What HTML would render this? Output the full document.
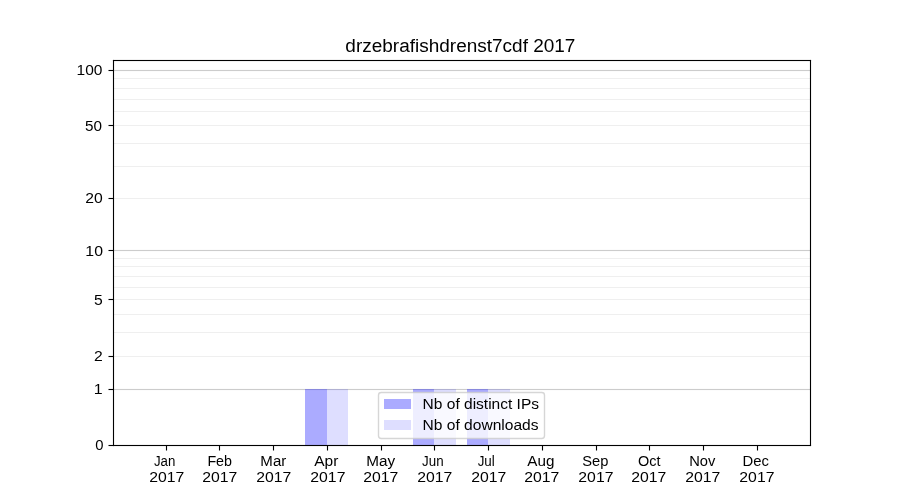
<!DOCTYPE html>
<html><head><meta charset="utf-8"><title>drzebrafishdrenst7cdf 2017</title>
<style>html,body{margin:0;padding:0;background:#fff;}body{width:900px;height:500px;overflow:hidden;}svg{display:block;will-change:transform;}text{font-family:"Liberation Sans",sans-serif;fill:#000;}</style>
</head><body>
<svg width="900" height="500" viewBox="0 0 900 500">
<rect x="0" y="0" width="900" height="500" fill="#ffffff"/>
<g>
<rect x="113" y="388.945" width="697.5" height="1.111" fill="#cccccc"/>
<rect x="113" y="355.945" width="697.5" height="1.111" fill="#efefef"/>
<rect x="113" y="331.945" width="697.5" height="1.111" fill="#efefef"/>
<rect x="113" y="313.945" width="697.5" height="1.111" fill="#efefef"/>
<rect x="113" y="298.945" width="697.5" height="1.111" fill="#efefef"/>
<rect x="113" y="286.945" width="697.5" height="1.111" fill="#efefef"/>
<rect x="113" y="275.945" width="697.5" height="1.111" fill="#efefef"/>
<rect x="113" y="265.945" width="697.5" height="1.111" fill="#efefef"/>
<rect x="113" y="257.945" width="697.5" height="1.111" fill="#efefef"/>
<rect x="113" y="249.945" width="697.5" height="1.111" fill="#cccccc"/>
<rect x="113" y="197.945" width="697.5" height="1.111" fill="#efefef"/>
<rect x="113" y="165.945" width="697.5" height="1.111" fill="#efefef"/>
<rect x="113" y="142.945" width="697.5" height="1.111" fill="#efefef"/>
<rect x="113" y="124.945" width="697.5" height="1.111" fill="#efefef"/>
<rect x="113" y="110.945" width="697.5" height="1.111" fill="#efefef"/>
<rect x="113" y="98.945" width="697.5" height="1.111" fill="#efefef"/>
<rect x="113" y="87.945" width="697.5" height="1.111" fill="#efefef"/>
<rect x="113" y="77.945" width="697.5" height="1.111" fill="#efefef"/>
<rect x="113" y="69.945" width="697.5" height="1.111" fill="#cccccc"/>
</g>
<g shape-rendering="crispEdges">
<rect x="305" y="389" width="22" height="56" fill="#0000ff" fill-opacity="0.33"/>
<rect x="327" y="389" width="21" height="56" fill="#0000ff" fill-opacity="0.13"/>
<rect x="413" y="389" width="21" height="56" fill="#0000ff" fill-opacity="0.33"/>
<rect x="434" y="389" width="22" height="56" fill="#0000ff" fill-opacity="0.13"/>
<rect x="467" y="389" width="21" height="56" fill="#0000ff" fill-opacity="0.33"/>
<rect x="488" y="389" width="22" height="56" fill="#0000ff" fill-opacity="0.13"/>
</g>
<g fill="#000000">
<rect x="112.945" y="59.944" width="698.111" height="1.111"/>
<rect x="112.945" y="444.945" width="698.111" height="1.111"/>
<rect x="112.945" y="59.944" width="1.111" height="386.111"/>
<rect x="809.944" y="59.944" width="1.111" height="386.111"/>
<rect x="108.5" y="444.945" width="5" height="1.111"/>
<rect x="108.5" y="388.945" width="5" height="1.111"/>
<rect x="108.5" y="355.945" width="5" height="1.111"/>
<rect x="108.5" y="298.945" width="5" height="1.111"/>
<rect x="108.5" y="249.945" width="5" height="1.111"/>
<rect x="108.5" y="197.945" width="5" height="1.111"/>
<rect x="108.5" y="124.945" width="5" height="1.111"/>
<rect x="108.5" y="69.945" width="5" height="1.111"/>
<rect x="165.945" y="445.5" width="1.111" height="5"/>
<rect x="218.945" y="445.5" width="1.111" height="5"/>
<rect x="272.945" y="445.5" width="1.111" height="5"/>
<rect x="326.945" y="445.5" width="1.111" height="5"/>
<rect x="380.945" y="445.5" width="1.111" height="5"/>
<rect x="433.945" y="445.5" width="1.111" height="5"/>
<rect x="487.945" y="445.5" width="1.111" height="5"/>
<rect x="541.944" y="445.5" width="1.111" height="5"/>
<rect x="595.944" y="445.5" width="1.111" height="5"/>
<rect x="648.944" y="445.5" width="1.111" height="5"/>
<rect x="702.944" y="445.5" width="1.111" height="5"/>
<rect x="756.944" y="445.5" width="1.111" height="5"/>
</g>
<rect x="378.5" y="392.5" width="166" height="46" rx="2.8" ry="2.8" fill="#ffffff" fill-opacity="0.8" stroke="#cccccc" stroke-opacity="0.8" stroke-width="1.39"/>
<g shape-rendering="crispEdges">
<rect x="384" y="399" width="27" height="10" fill="#0000ff" fill-opacity="0.33"/>
<rect x="384" y="420" width="27" height="10" fill="#0000ff" fill-opacity="0.13"/>
</g>
<text x="345.34" y="52.00" font-size="17.60" textLength="230.10" lengthAdjust="spacingAndGlyphs">drzebrafishdrenst7cdf 2017</text>
<text x="422.64" y="409.00" font-size="14.70" textLength="116.40" lengthAdjust="spacingAndGlyphs">Nb of distinct IPs</text>
<text x="422.56" y="430.00" font-size="14.70" textLength="116.00" lengthAdjust="spacingAndGlyphs">Nb of downloads</text>
<text x="95.30" y="450.00" font-size="14.70" textLength="8.25" lengthAdjust="spacingAndGlyphs">0</text>
<text x="93.86" y="394.00" font-size="14.70" textLength="8.88" lengthAdjust="spacingAndGlyphs">1</text>
<text x="93.90" y="361.00" font-size="14.70" textLength="8.75" lengthAdjust="spacingAndGlyphs">2</text>
<text x="94.06" y="305.00" font-size="14.70" textLength="8.75" lengthAdjust="spacingAndGlyphs">5</text>
<text x="85.38" y="256.00" font-size="14.70" textLength="17.62" lengthAdjust="spacingAndGlyphs">10</text>
<text x="85.16" y="203.00" font-size="14.70" textLength="17.50" lengthAdjust="spacingAndGlyphs">20</text>
<text x="85.09" y="131.00" font-size="14.70" textLength="17.00" lengthAdjust="spacingAndGlyphs">50</text>
<text x="76.61" y="75.00" font-size="14.70" textLength="25.88" lengthAdjust="spacingAndGlyphs">100</text>
<text x="153.98" y="466.00" font-size="14.70" textLength="21.38" lengthAdjust="spacingAndGlyphs">Jan</text>
<text x="149.26" y="482.00" font-size="14.70" textLength="35.12" lengthAdjust="spacingAndGlyphs">2017</text>
<text x="207.39" y="466.00" font-size="14.70" textLength="24.62" lengthAdjust="spacingAndGlyphs">Feb</text>
<text x="202.29" y="482.00" font-size="14.70" textLength="35.12" lengthAdjust="spacingAndGlyphs">2017</text>
<text x="260.39" y="466.00" font-size="14.70" textLength="25.88" lengthAdjust="spacingAndGlyphs">Mar</text>
<text x="256.20" y="482.00" font-size="14.70" textLength="35.12" lengthAdjust="spacingAndGlyphs">2017</text>
<text x="314.28" y="466.00" font-size="14.70" textLength="24.12" lengthAdjust="spacingAndGlyphs">Apr</text>
<text x="310.32" y="482.00" font-size="14.70" textLength="35.12" lengthAdjust="spacingAndGlyphs">2017</text>
<text x="366.21" y="466.00" font-size="14.70" textLength="28.88" lengthAdjust="spacingAndGlyphs">May</text>
<text x="363.26" y="482.00" font-size="14.70" textLength="35.12" lengthAdjust="spacingAndGlyphs">2017</text>
<text x="422.12" y="466.00" font-size="14.70" textLength="21.50" lengthAdjust="spacingAndGlyphs">Jun</text>
<text x="417.21" y="482.00" font-size="14.70" textLength="35.12" lengthAdjust="spacingAndGlyphs">2017</text>
<text x="477.68" y="466.00" font-size="14.70" textLength="17.12" lengthAdjust="spacingAndGlyphs">Jul</text>
<text x="471.31" y="482.00" font-size="14.70" textLength="35.12" lengthAdjust="spacingAndGlyphs">2017</text>
<text x="527.34" y="466.00" font-size="14.70" textLength="27.12" lengthAdjust="spacingAndGlyphs">Aug</text>
<text x="524.22" y="482.00" font-size="14.70" textLength="35.12" lengthAdjust="spacingAndGlyphs">2017</text>
<text x="582.21" y="466.00" font-size="14.70" textLength="26.12" lengthAdjust="spacingAndGlyphs">Sep</text>
<text x="578.34" y="482.00" font-size="14.70" textLength="35.12" lengthAdjust="spacingAndGlyphs">2017</text>
<text x="638.11" y="466.00" font-size="14.70" textLength="22.50" lengthAdjust="spacingAndGlyphs">Oct</text>
<text x="631.28" y="482.00" font-size="14.70" textLength="35.12" lengthAdjust="spacingAndGlyphs">2017</text>
<text x="689.26" y="466.00" font-size="14.70" textLength="26.12" lengthAdjust="spacingAndGlyphs">Nov</text>
<text x="685.23" y="482.00" font-size="14.70" textLength="35.12" lengthAdjust="spacingAndGlyphs">2017</text>
<text x="742.58" y="466.00" font-size="14.70" textLength="26.38" lengthAdjust="spacingAndGlyphs">Dec</text>
<text x="739.33" y="482.00" font-size="14.70" textLength="35.12" lengthAdjust="spacingAndGlyphs">2017</text>
</svg>
</body></html>
